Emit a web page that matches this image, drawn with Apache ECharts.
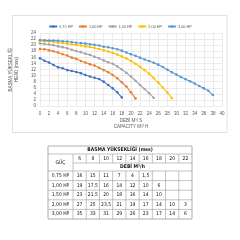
<!DOCTYPE html>
<html>
<head>
<meta charset="utf-8">
<script src="https://cdn.jsdelivr.net/npm/echarts@6/dist/echarts.min.js"></script>
<style>
  html, body { margin: 0; padding: 0; background: #fff; }
  #chart { width: 240px; height: 240px; }
</style>
</head>
<body>
<div id="chart"></div>
<script>
// flow steps (m3/h) along the x axis
const flow = [0, 1, 2, 3, 4, 5, 6, 7, 8, 9, 10, 11, 12, 13, 14, 15, 16, 17, 18, 19,
  20, 21, 22, 23, 24, 25, 26, 27, 28, 29, 30, 31, 32, 33, 34, 35, 36, 37, 38];

const seriesNames = ['0,75 HP', '1,00 HP', '1,50 HP', '2,00 HP', '3,00 HP'];
const seriesColors = ['#4472C4', '#ED7D31', '#A5A5A5', '#FFC000', '#5B9BD5'];

// head (mss)
const hp075 = [15.7, 14.9, 14.3, 13.5, 12.7, 12.4, 11.8, 11.5, 11.2, 10.8, 10.2, 9.7, 9.3, 8.9, 8.0, 6.9, 5.8, 4.5, 2.8];
const hp100 = [18.75, 18.65, 18.3, 18.0, 17.6, 17.0, 16.6, 15.9, 15.5, 14.8, 14.3, 13.7, 13.3, 12.6, 11.8, 11.1, 10.2, 9.1, 7.8, 6.4, 4.5, 2.5];
const hp150 = [20.6, 20.4, 20.2, 20.0, 19.6, 19.3, 19.0, 18.5, 18.1, 17.7, 17.2, 16.8, 16.2, 15.7, 15.0, 14.4, 13.9, 13.0, 12.0, 10.9, 9.7, 8.3, 6.9, 5.6, 4.2, 2.7];
const hp200 = [21.4, 21.3, 21.2, 21.1, 20.8, 20.7, 20.5, 20.3, 20.1, 19.9, 19.6, 19.4, 19.1, 18.75, 18.3, 17.9, 17.4, 16.9, 16.3, 15.6, 14.8, 13.9, 12.9, 11.8, 10.6, 9.2, 7.7, 6.1, 4.4, 2.6];
const hp300 = [21.7, 21.6, 21.5, 21.5, 21.4, 21.3, 21.2, 21.05, 20.8, 20.7, 20.5, 20.3, 20.1, 19.9, 19.5, 19.3, 19.0, 18.65, 18.2, 17.6, 17.0, 16.5, 15.9, 15.3, 14.8, 14.2, 13.6, 12.8, 11.9, 11.1, 10.3, 9.5, 8.8, 8.1, 7.4, 6.6, 5.8, 5.0, 3.6];
const curves = [hp075, hp100, hp150, hp200, hp300];

// table below the chart
const tableHeads = ['6', '8', '10', '12', '14', '16', '18', '20', '22'];
const tablePowers = ['0,75 HP', '1,00 HP', '1,50 HP', '2,00 HP', '3,00 HP'];
const tFlow075 = ['16', '15', '11', '7', '4', '1,5', '', '', ''];
const tFlow100 = ['19', '17,5', '16', '14', '12', '10', '6', '', ''];
const tFlow150 = ['23', '21,5', '20', '18', '16', '14', '10', '', ''];
const tFlow200 = ['27', '25', '23,5', '21', '19', '17', '14', '10', '3'];
const tFlow300 = ['35', '33', '31', '29', '26', '23', '17', '14', '6'];
const tableFlows = [tFlow075, tFlow100, tFlow150, tFlow200, tFlow300];

const axisGray = '#595959';
const gridGray = '#D9D9D9';
const tableFont = '"Liberation Sans Narrow", "DejaVu Sans Condensed", sans-serif';

function buildTable() {
  const els = [];
  const left = 48, right = 192, top = 146;
  const firstColW = 25;
  const colW = (right - left - firstColW) / tableHeads.length;
  const rowH = [8, 9, 8, 9.6, 9.6, 9.6, 9.6, 9.6];
  const rowY = [top];
  rowH.forEach(h => rowY.push(rowY[rowY.length - 1] + h));
  const line = (x1, y1, x2, y2) => els.push({
    type: 'line', shape: { x1, y1, x2, y2 },
    style: { stroke: '#9A9A9A', lineWidth: 0.6 }, silent: true
  });
  const txt = (x, y, s, bold) => els.push({
    type: 'text', x, y, silent: true,
    style: {
      text: s, fill: '#111', font: (bold ? 'bold ' : '') + '5px ' + tableFont,
      align: 'center', verticalAlign: 'middle'
    }
  });
  const bottom = rowY[rowY.length - 1];
  // outer box
  els.push({
    type: 'rect', shape: { x: left, y: top, width: right - left, height: bottom - top },
    style: { fill: '#fff', stroke: '#9A9A9A', lineWidth: 0.8 }, silent: true
  });
  // horizontal lines
  line(left, rowY[1], right, rowY[1]);
  line(left + firstColW, rowY[2], right, rowY[2]);
  for (let r = 3; r < rowY.length - 1; r++) line(left, rowY[r], right, rowY[r]);
  // vertical lines
  line(left + firstColW, rowY[1], left + firstColW, bottom);
  for (let c = 1; c < tableHeads.length; c++) {
    const x = left + firstColW + c * colW;
    line(x, rowY[1], x, rowY[2]);
    line(x, rowY[3], x, bottom);
  }
  txt((left + right) / 2, (rowY[0] + rowY[1]) / 2, 'BASMA YÜKSEKLİĞİ (mss)', true);
  txt(left + firstColW / 2, (rowY[1] + rowY[3]) / 2, 'GÜÇ', false);
  tableHeads.forEach((h, c) => txt(left + firstColW + (c + 0.5) * colW, (rowY[1] + rowY[2]) / 2, h, false));
  txt(left + firstColW + (right - left - firstColW) / 2, (rowY[2] + rowY[3]) / 2, 'DEBİ M³/h', true);
  tablePowers.forEach((p, r) => {
    const cy = (rowY[r + 3] + rowY[r + 4]) / 2;
    txt(left + firstColW / 2, cy, p, false);
    tableFlows[r].forEach((v, c) => {
      if (v) txt(left + firstColW + (c + 0.5) * colW, cy, v, false);
    });
  });
  return els;
}

const chart = echarts.init(document.getElementById('chart'), null, { renderer: 'canvas' });

const option = {
  animation: false,
  textStyle: { fontFamily: '"Liberation Sans", Arial, sans-serif' },
  legend: {
    top: 19.5,
    left: 'center',
    itemWidth: 8,
    itemHeight: 3,
    itemGap: 5,
    textStyle: { fontSize: 3.8, color: axisGray, padding: [0, 0, 0, -3] },
    data: seriesNames
  },
  grid: { left: 34, top: 33, width: 188, height: 73 },
  xAxis: {
    type: 'value',
    min: 0, max: 40, interval: 2,
    name: 'DEBİ M³/ S\nCAPACITY M³/ H',
    nameLocation: 'middle',
    nameGap: 12,
    nameTextStyle: { fontSize: 4.5, color: axisGray, lineHeight: 6 },
    axisLine: { show: false },
    axisTick: { show: false },
    axisLabel: { fontSize: 4.5, color: axisGray, margin: 5 },
    splitLine: { lineStyle: { color: gridGray, width: 0.5 } }
  },
  yAxis: {
    type: 'value',
    min: 0, max: 24, interval: 2,
    name: 'BASMA YÜKSEKLİĞİ\nHEAD (mss)',
    nameLocation: 'middle',
    nameRotate: 90,
    nameGap: 4,
    nameTextStyle: { fontSize: 4.5, color: axisGray, lineHeight: 6 },
    axisLine: { show: false },
    axisTick: { show: false },
    axisLabel: { fontSize: 4.5, color: axisGray, margin: 4 },
    splitLine: { lineStyle: { color: gridGray, width: 0.5 } }
  },
  series: curves.map((c, i) => ({
    name: seriesNames[i],
    type: 'line',
    data: c.map((v, j) => [flow[j], v]),
    symbol: 'circle',
    symbolSize: 2.6,
    color: seriesColors[i],
    lineStyle: { width: 1.1 },
    itemStyle: { color: seriesColors[i] }
  })),
  graphic: [
    {
      type: 'rect', z: -10, silent: true,
      shape: { x: 12.5, y: 15.5, width: 214.5, height: 117 },
      style: { fill: 'none', stroke: gridGray, lineWidth: 0.8 }
    }
  ].concat(buildTable())
};

chart.setOption(option);
</script>
</body>
</html>
